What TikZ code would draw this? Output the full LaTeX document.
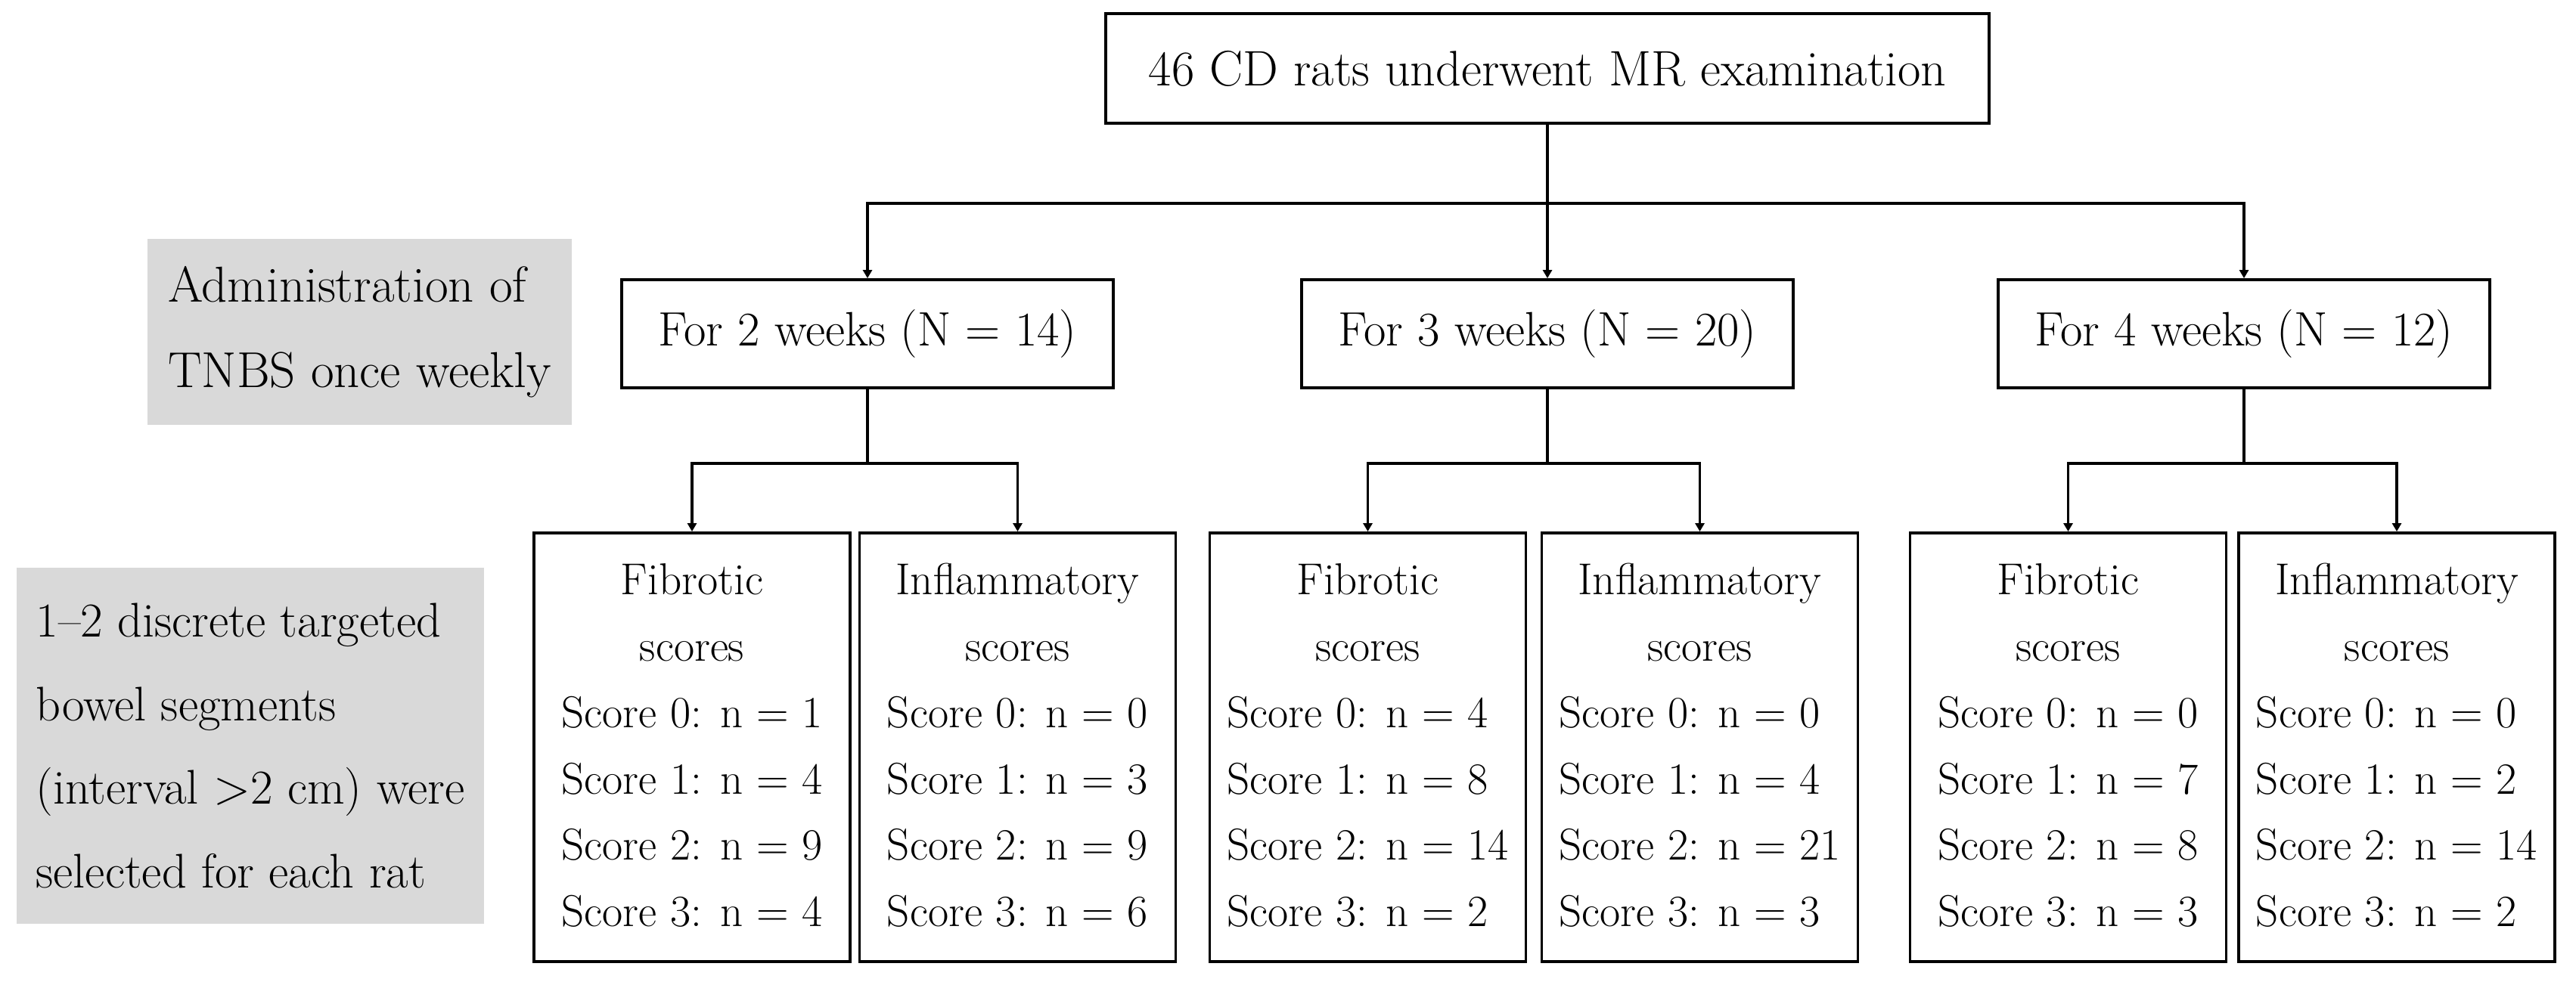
\documentclass[tikz,border=0pt]{standalone}
\usetikzlibrary{arrows.meta}
\definecolor{notegray}{RGB}{217, 217, 217}
\newcommand{\scoretab}[5]{%
  \begin{tabular}{@{}l@{}}
    \multicolumn{1}{@{}c@{}}{#1}\\
    \multicolumn{1}{@{}c@{}}{scores}\\
    Score 0: n = #2\\
    Score 1: n = #3\\
    Score 2: n = #4\\
    Score 3: n = #5
  \end{tabular}}
\tikzset{
  flowbox/.style={
    draw,
    line width=1.1pt,
    inner sep=0pt,
    align=center,
    font=\fontsize{18.2}{25}\selectfont
  },
  weekbox/.style={
    flowbox,
    minimum width=6.5cm,
    minimum height=1.43cm
  },
  scorebox/.style={
    flowbox,
    minimum width=4.18cm,
    minimum height=5.67cm,
    font=\fontsize{16.8}{25}\selectfont
  },
  notebox/.style={
    fill=notegray,
    inner sep=0pt,
    align=left,
    font=\fontsize{19}{32}\selectfont
  },
  link/.style={
    line width=1pt
  },
  arrowlink/.style={
    link,
    -{Triangle[length=1.1mm, width=1.2mm]}
  }
}
\begin{document}
\begin{tikzpicture}
  \useasboundingbox (0, 0) rectangle (34.06, -12.98);

  \node[flowbox, minimum width=11.68cm, minimum height=1.45cm, font=\fontsize{18.8}{25}\selectfont] (top) at (20.46, -0.905) {46 CD rats underwent MR examination};

  \node[weekbox] (w2) at (11.47, -4.415) {For 2 weeks (N = 14)};
  \node[weekbox] (w3) at (20.46, -4.415) {For 3 weeks (N = 20)};
  \node[weekbox] (w4) at (29.67, -4.415) {For 4 weeks (N = 12)};

  \node[scorebox] (f2) at (9.15, -9.885) {\scoretab{Fibrotic}{1}{4}{9}{4}};
  \node[scorebox] (i2) at (13.455, -9.885) {\scoretab{Inflammatory}{0}{3}{9}{6}};
  \node[scorebox] (f3) at (18.085, -9.885) {\scoretab{Fibrotic}{4}{8}{14}{2}};
  \node[scorebox] (i3) at (22.475, -9.885) {\scoretab{Inflammatory}{0}{4}{21}{3}};
  \node[scorebox] (f4) at (27.345, -9.885) {\scoretab{Fibrotic}{0}{7}{8}{3}};
  \node[scorebox] (i4) at (31.69, -9.885) {\scoretab{Inflammatory}{0}{2}{14}{2}};

  \node[notebox, minimum width=5.61cm, minimum height=2.46cm] (g1) at (4.755, -4.39)
    {Administration of\\TNBS once weekly};
  \node[notebox, minimum width=6.18cm, minimum height=4.71cm, font=\fontsize{18.3}{31.5}\selectfont] (g2) at (3.31, -9.865)
    {1--2 discrete targeted\\bowel segments\\(interval >2 cm) were\\selected for each rat};

  \draw[link] (top.south) -- (top.south |- 0, -2.69) coordinate (j1);
  \draw[arrowlink] (j1) -| (w2.north);
  \draw[arrowlink] (j1) -- (w3.north);
  \draw[arrowlink] (j1) -| (w4.north);

  \foreach \w/\f/\i in {w2/f2/i2, w3/f3/i3, w4/f4/i4} {
    \draw[link] (\w.south) -- (\w.south |- 0, -6.13) coordinate (j\w);
    \draw[arrowlink] (j\w) -| (\f.north);
    \draw[arrowlink] (j\w) -| (\i.north);
  }
\end{tikzpicture}
\end{document}
